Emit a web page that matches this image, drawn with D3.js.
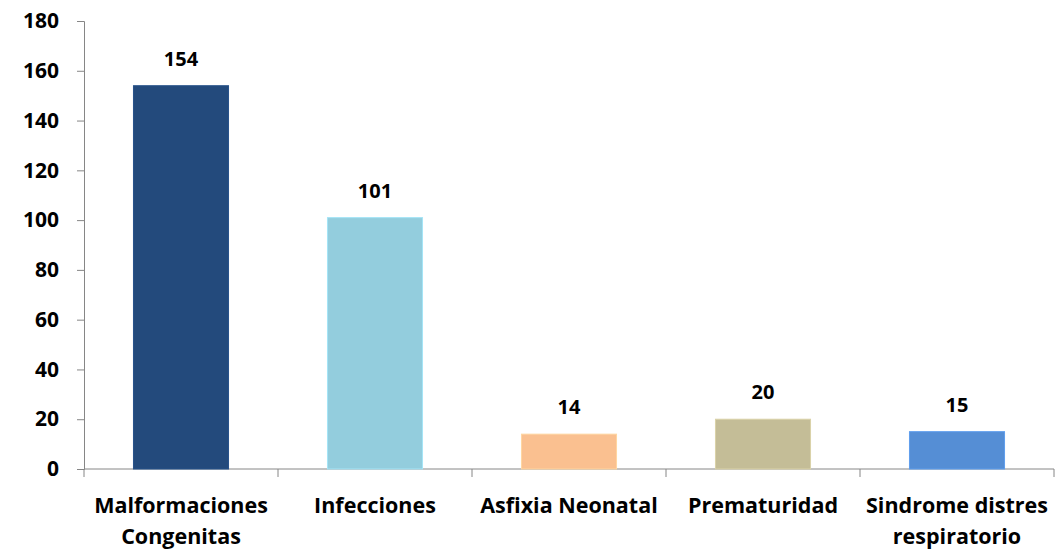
<!DOCTYPE html>
<html>
<head>
<meta charset="utf-8">
<script src="https://cdn.jsdelivr.net/npm/d3@7"></script>
<style>
  body { margin: 0; background: #fff; }
  text { font-family: "Open Sans", Lato, sans-serif; font-weight: bold; fill: #000; }
</style>
</head>
<body>
<div id="chart"></div>
<script>
const categories = [
  ["Malformaciones", "Congenitas"],
  ["Infecciones"],
  ["Asfixia Neonatal"],
  ["Prematuridad"],
  ["Sindrome distres", "respiratorio"]
];
const values = [154, 101, 14, 20, 15];
const colors = ["#234A7C", "#93CDDD", "#FAC090", "#C4BD97", "#558ED5"];
const yTicks = [0, 20, 40, 60, 80, 100, 120, 140, 160, 180];

const W = 1059, H = 550;
const margin = { top: 21, right: 5, bottom: 81, left: 84 };
const width = W - margin.left - margin.right;
const height = H - margin.top - margin.bottom;

const svg = d3.select("#chart").append("svg")
  .attr("width", W).attr("height", H)
  .append("g")
  .attr("transform", `translate(${margin.left},${margin.top})`);

const keys = categories.map((d, i) => i);
const x = d3.scaleBand().domain(keys).range([0, width]).paddingInner(0.51).paddingOuter(0.255);
const xOuter = d3.scaleBand().domain(keys).range([0, width]);
const y = d3.scaleLinear().domain([0, 180]).range([height, 0]);

// y axis
const yAxis = svg.append("g")
  .call(d3.axisLeft(y).tickValues(yTicks).tickSize(7).tickPadding(18));
yAxis.selectAll("line, path").attr("stroke", "#868686");
yAxis.selectAll("text").style("font-size", "21px").attr("fill", "#000");

// x axis line + category ticks
const xg = svg.append("g").attr("transform", `translate(0,${height})`);
xg.append("line").attr("x1", 0).attr("x2", width).attr("stroke", "#868686");
xg.selectAll(".tk").data(d3.range(6)).join("line")
  .attr("x1", (d) => d * xOuter.bandwidth())
  .attr("x2", (d) => d * xOuter.bandwidth())
  .attr("y1", 0).attr("y2", 8)
  .attr("stroke", "#868686");

// bars
svg.selectAll(".bar").data(values).join("rect")
  .attr("x", (d, i) => x(i))
  .attr("y", (d) => y(d))
  .attr("width", x.bandwidth())
  .attr("height", (d) => height - y(d))
  .attr("fill", (d, i) => colors[i])
  .attr("stroke", (d, i) => d3.color(colors[i]).brighter(0.3))
  .attr("stroke-width", 1);

// value labels
svg.selectAll(".val").data(values).join("text")
  .attr("x", (d, i) => x(i) + x.bandwidth() / 2)
  .attr("y", (d) => y(d) - 20)
  .attr("text-anchor", "middle")
  .style("font-size", "20px")
  .text((d) => d);

// category labels
const cl = svg.selectAll(".cat").data(categories).join("text")
  .attr("text-anchor", "middle")
  .attr("transform", (d, i) => `translate(${xOuter(i) + xOuter.bandwidth() / 2},${height + 44})`)
  .style("font-size", "21.5px");
cl.selectAll("tspan").data((d) => d).join("tspan")
  .attr("x", 0)
  .attr("dy", (d, j) => (j === 0 ? 0 : 31))
  .text((d) => d);
</script>
</body>
</html>
